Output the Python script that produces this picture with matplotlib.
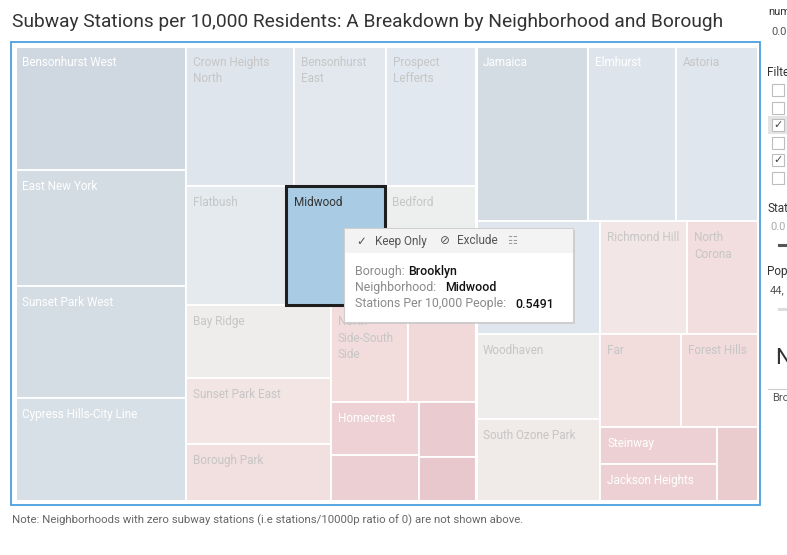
import textwrap
import matplotlib
matplotlib.use("Agg")
import matplotlib.pyplot as plt
from matplotlib.patches import Rectangle
from matplotlib.colors import LinearSegmentedColormap, Normalize

plt.rcParams['font.family'] = ['Roboto', 'DejaVu Sans']

# stations per 10,000 residents (size and colour of each cell)
boroughs = ["Brooklyn", "Queens"]
names_bk = ["Bensonhurst West", "East New York", "Sunset Park West", "Cypress Hills-City Line",
            "Crown Heights North", "Bensonhurst East", "Prospect Lefferts",
            "Flatbush", "Midwood", "Bedford",
            "Bay Ridge", "Sunset Park East", "Borough Park",
            "North Side-South Side", "", "Homecrest", "", "", ""]
ratio_bk = [0.983, 0.919, 0.887, 0.816,
            0.701, 0.597, 0.584,
            0.552, 0.5491, 0.504,
            0.490, 0.443, 0.383,
            0.346, 0.306, 0.216, 0.188, 0.145, 0.116]
names_qn = ["Jamaica", "Elmhurst", "Astoria",
            "", "Richmond Hill", "North Corona",
            "Woodhaven", "South Ozone Park",
            "Far", "Forest Hills",
            "Steinway", "Jackson Heights", ""]
ratio_qn = [0.908, 0.714, 0.661,
            0.649, 0.456, 0.369,
            0.488, 0.471,
            0.349, 0.330,
            0.202, 0.199, 0.139]
selected = "Midwood"

# how the cells are cut into strips (count, direction)
strips_bk = [(4, 'col'), (3, 'row'), (3, 'row'), (3, 'col'), (2, 'row'), (2, 'col'), (1, 'row'), (1, 'row')]
strips_qn = [(3, 'row'), (3, 'row'), (2, 'col'), (2, 'row'), (2, 'col'), (1, 'col')]


def strip_layout(values, strips, x, y, w, h):
    rects = []
    i = 0
    for n, d in strips:
        chunk = values[i:i + n]
        s = sum(chunk)
        frac = s / sum(values[i:])
        if d == 'col':
            cw = w * frac
            yy = y
            for v in chunk:
                ch = h * v / s
                rects.append((x, yy, cw, ch))
                yy += ch
            x += cw
            w -= cw
        else:
            rh = h * frac
            xx = x
            for v in chunk:
                cw = w * v / s
                rects.append((xx, y, cw, rh))
                xx += cw
            y += rh
            h -= rh
        i += n
    return rects


W, H = 787, 555
fig = plt.figure(figsize=(W / 100, H / 100), dpi=100)
ax = fig.add_axes([0, 0, 1, 1])
ax.set_xlim(0, W)
ax.set_ylim(H, 0)
ax.axis('off')

# faded diverging palette (everything but the selection is dimmed)
anchors = [(0.11, '#e8c8cc'), (0.22, '#eed2d5'), (0.35, '#f2dcdc'), (0.45, '#f2e6e5'),
           (0.50, '#eeeeee'), (0.56, '#e3e9ef'), (0.70, '#dee5ec'), (0.99, '#cfd8e0')]
norm = Normalize(0.11, 0.99)
cmap = LinearSegmentedColormap.from_list('div', [(norm(v), c) for v, c in anchors])

totals = [sum(ratio_bk), sum(ratio_qn)]
boro_rects = strip_layout(totals, [(1, 'col'), (1, 'col')], 15, 46, 742.5, 455)

sel_rect = None
for (bx, by, bw, bh), names, vals, strips in zip(boro_rects, [names_bk, names_qn],
                                                  [ratio_bk, ratio_qn], [strips_bk, strips_qn]):
    cells = strip_layout(vals, strips, bx, by, bw, bh)
    for (x, y, w, h), name, v in zip(cells, names, vals):
        ax.add_patch(Rectangle((x, y), w, h, facecolor=cmap(norm(v)), edgecolor='white', lw=1.3))
        if name == selected:
            sel_rect = (x, y, w, h)
            continue
        if not name:
            continue
        col = 'white' if (v > 0.705 or v < 0.25) else '#c6c6c6'
        lines = textwrap.wrap(name, width=max(1, int((w - 10) / 5.5)), break_on_hyphens=False)
        for k, line in enumerate(lines):
            yb = y + 20 + k * 16.5
            if yb > y + h - 3:
                break
            ax.text(x + 7, yb, line, fontsize=8.5, color=col, va='baseline', ha='left')
    ax.add_patch(Rectangle((bx, by), bw, bh, fill=False, edgecolor='white', lw=2.2))

# selected cell
x, y, w, h = sel_rect
ax.add_patch(Rectangle((x, y), w, h, facecolor='#a9cce4', edgecolor='#1e1e1e', lw=2.2, zorder=5))
ax.text(x + 8, y + 20, selected, fontsize=8.5, color='#333333', va='baseline', zorder=6)

# view frame
ax.add_patch(Rectangle((11, 42), 749, 463, fill=False, edgecolor='#4a9fdf', lw=1.3, zorder=4))

# tooltip
sel_val = ratio_bk[names_bk.index(selected)]
tx, ty, tw, th = 344, 228, 229, 94
ax.add_patch(Rectangle((tx + 2, ty + 2), tw, th, facecolor='#bdbdbd', edgecolor='none', alpha=0.6, zorder=7))
ax.add_patch(Rectangle((tx, ty), tw, th, facecolor='white', edgecolor='#cfcfcf', lw=0.8, zorder=8))
ax.add_patch(Rectangle((tx + 0.5, ty + 0.5), tw - 1, 24, facecolor='#f3f3f3', edgecolor='none', zorder=8))
hy = ty + 13
ax.text(356, hy, '\u2713', fontsize=8.5, color='#555555', va='center', zorder=9, family='DejaVu Sans')
ax.text(375, hy, 'Keep Only', fontsize=8.5, color='#555555', va='center', zorder=9)
ax.text(440, hy, '\u2298', fontsize=8.5, color='#555555', va='center', zorder=9, family='DejaVu Sans')
ax.text(457, hy, 'Exclude', fontsize=8.5, color='#555555', va='center', zorder=9)
ax.text(507, hy, '\u2637', fontsize=8, color='#9a9a9a', va='center', zorder=9, family='DejaVu Sans')
rows = [("Borough:", "Brooklyn", 408), ("Neighborhood:", selected, 445),
        ("Stations Per 10,000 People:", f"{sel_val:.4f}", 515)]
for k, (lab, val, vx) in enumerate(rows):
    yy = 271 + k * 16.5
    ax.text(355, yy, lab, fontsize=8.9, color='#8a8a8a', va='center', zorder=9)
    ax.text(vx, yy, val, fontsize=8.9, color='#111111', va='center', weight='medium', zorder=9)

# title and note
ax.text(12, 22, "Subway Stations per 10,000 Residents: A Breakdown by Neighborhood and Borough",
        fontsize=13.8, color='#333333', va='center')
ax.text(12, 520, "Note: Neighborhoods with zero subway stations (i.e stations/10000p ratio of 0) are not shown above.",
        fontsize=8.2, color='#666666', va='center')

# cut-off side panel
ax.text(768, 12, 'num', fontsize=8, color='#333333', va='center')
ax.text(771, 32, '0.0', fontsize=8, color='#555555', va='center')
ax.text(767, 73, 'Filte', fontsize=8.5, color='#333333', va='center')
box_y = [90, 107.5, 125, 142.5, 160, 177.5]
checked = [False, False, True, False, True, False]
for cy, c in zip(box_y, checked):
    if c and cy == 125:
        ax.add_patch(Rectangle((768, cy - 9), 19, 18, facecolor='#e4e4e4', edgecolor='none'))
    ax.add_patch(Rectangle((772, cy - 6), 12, 12, facecolor='white', edgecolor='#bdbdbd', lw=0.8))
    if c:
        ax.text(778, cy, '\u2713', fontsize=8, color='#444444', ha='center', va='center', family='DejaVu Sans')
ax.text(767, 209, 'Stat', fontsize=8.5, color='#333333', va='center')
ax.text(770, 227, '0.0', fontsize=8, color='#aaaaaa', va='center')
ax.plot([779, 787], [245, 245], color='#555555', lw=2.2)
ax.text(767, 272, 'Pop', fontsize=8.5, color='#333333', va='center')
ax.text(770, 290, '44,', fontsize=8, color='#555555', va='center')
ax.plot([779, 787], [309, 309], color='#dddddd', lw=2.2)
ax.text(775, 359, 'N', fontsize=16, color='#333333', va='center')
ax.plot([768, 787], [389, 389], color='#cccccc', lw=0.8)
ax.text(772, 398, 'Bro', fontsize=8, color='#555555', va='center')

fig.savefig('out.png', dpi=100)
